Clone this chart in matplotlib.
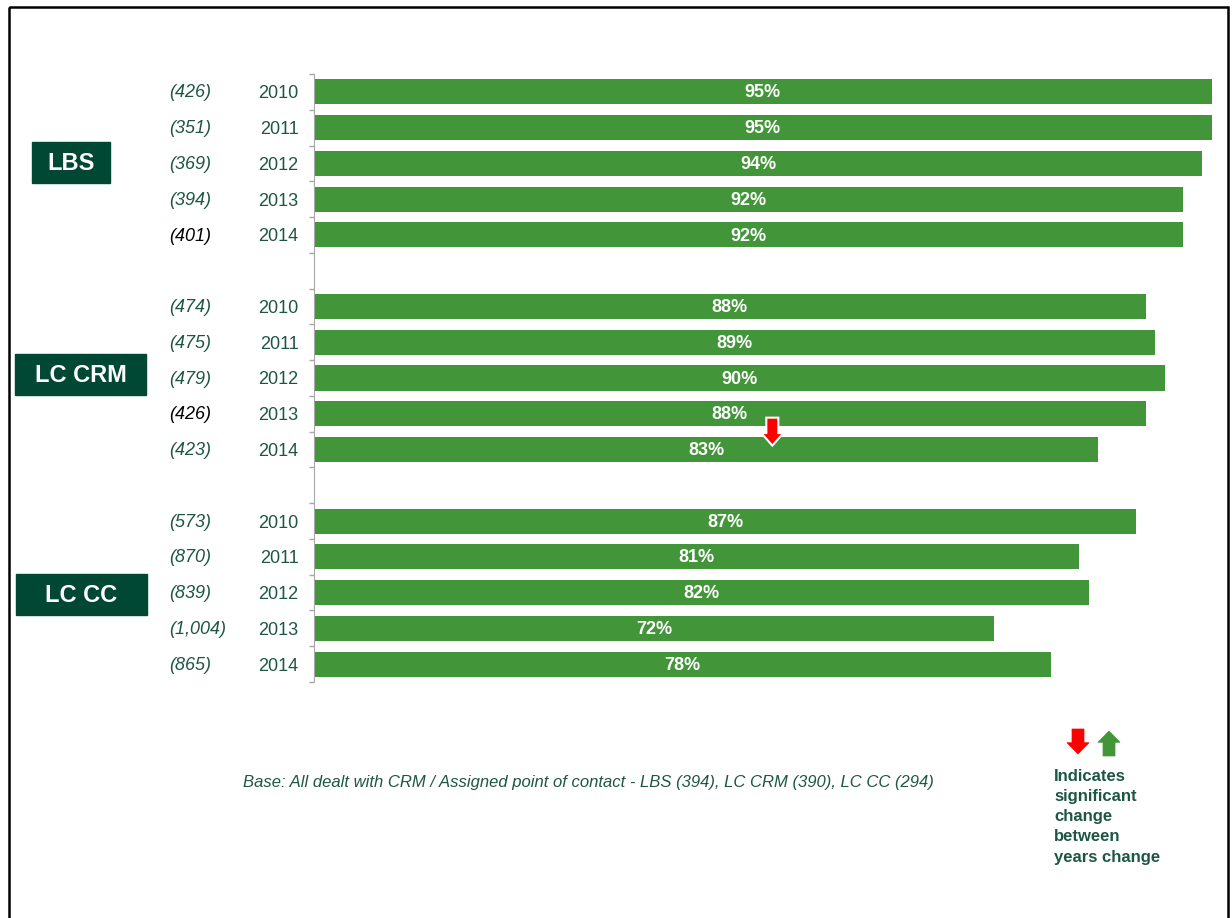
import numpy as np
import matplotlib
matplotlib.use('Agg')
import matplotlib.pyplot as plt
import matplotlib.transforms as mtransforms
from matplotlib.patches import Rectangle, Polygon

plt.rcParams['font.family'] = ['Liberation Sans', 'DejaVu Sans']

# data
groups = ['LBS', 'LC CRM', 'LC CC']
years = ['2010', '2011', '2012', '2013', '2014']
lbs = [95, 95, 94, 92, 92]
lc_crm = [88, 89, 90, 88, 83]
lc_cc = [87, 81, 82, 72, 78]
lbs_n = ['(426)', '(351)', '(369)', '(394)', '(401)']
lc_crm_n = ['(474)', '(475)', '(479)', '(426)', '(423)']
lc_cc_n = ['(573)', '(870)', '(839)', '(1,004)', '(865)']
# base sizes printed in black rather than green
black_n = [('LBS', '2014'), ('LC CRM', '2013')]
# significant drop vs previous year
sig_down = [('LC CRM', '2014')]
base_note = ('Base: All dealt with CRM / Assigned point of contact - '
             'LBS (394), LC CRM (390), LC CC (294)')
legend_note = 'Indicates\nsignificant\nchange\nbetween\nyears change'

GREEN = '#43953A'
DARK = '#1E5646'
BOX = '#004833'
W, H = 1232, 918

values = [lbs, lc_crm, lc_cc]
bases = [lbs_n, lc_crm_n, lc_cc_n]

rows, vals, ns, labs, keys = [], [], [], [], []
for gi, g in enumerate(groups):
    for yi, yr in enumerate(years):
        rows.append(gi * 6 + yi)
        vals.append(values[gi][yi])
        ns.append(bases[gi][yi])
        labs.append(yr)
        keys.append((g, yr))

fig = plt.figure(figsize=(W / 100, H / 100), dpi=100)

ax = fig.add_axes([314 / W, 1 - 682 / H, 945 / W, 608 / H])
ax.barh(rows, vals, height=0.7, color=GREEN)
ax.set_xlim(0, 100)
ax.set_ylim(16.5, -0.5)
ax.set_xticks([])
ax.set_yticks(np.arange(-0.5, 17, 1))
ax.set_yticklabels([])
ax.set_yticks(rows, minor=True)
ax.set_yticklabels(labs, minor=True)
ax.tick_params(axis='y', which='major', length=3.5, width=1, color='#A6A6A6')
ax.tick_params(axis='y', which='minor', length=0, pad=11, labelsize=13,
               labelcolor=DARK)
for s in ['top', 'right', 'bottom']:
    ax.spines[s].set_visible(False)
ax.spines['left'].set_color('#A6A6A6')

for r, v in zip(rows, vals):
    ax.text(v / 2, r + 0.03, f'{v}%', ha='center', va='center', color='white',
            fontweight='bold', fontsize=13)

trans = mtransforms.blended_transform_factory(fig.transFigure, ax.transData)
for r, n, k in zip(rows, ns, keys):
    ax.text(169 / W, r + 0.03, n, transform=trans, ha='left', va='center',
            style='italic', fontsize=13,
            color='black' if k in black_n else DARK)

# overlay in pixel coords for frame, boxes and legend (drawn on top)
ov = fig.add_axes([0, 0, 1, 1])
ov.set_xlim(0, W)
ov.set_ylim(H, 0)
ov.axis('off')
ov.set_zorder(5)

# group boxes
boxes = [(32, 142, 110, 183), (15, 354, 146, 395), (16, 574, 147, 615)]
for g, (x0, y0, x1, y1) in zip(groups, boxes):
    ov.add_patch(Rectangle((x0, y0), x1 - x0, y1 - y0, color=BOX))
    ov.text((x0 + x1) / 2, (y0 + y1) / 2 + 1, g, ha='center', va='center',
            color='white', fontweight='bold', fontsize=17)

# frame
ov.add_patch(Rectangle((9, 7), 1219, 960, fill=False, lw=1.8, ec='black'))


def arrow(cx, top, bottom, up, color, edge=None):
    hw, sw = 11, 6
    hl = (bottom - top) * 0.45
    if up:
        pts = [(cx, top), (cx + hw, top + hl), (cx + sw, top + hl),
               (cx + sw, bottom), (cx - sw, bottom), (cx - sw, top + hl),
               (cx - hw, top + hl)]
    else:
        pts = [(cx, bottom), (cx + hw, bottom - hl), (cx + sw, bottom - hl),
               (cx + sw, top), (cx - sw, top), (cx - sw, bottom - hl),
               (cx - hw, bottom - hl)]
    ov.add_patch(Polygon(pts, closed=True, fc=color,
                         ec=edge if edge else color,
                         lw=1.5 if edge else 0.5, zorder=5))


# significance arrows on bars
for r, v, k in zip(rows, vals, keys):
    if k in sig_down:
        px, py = ax.transData.transform((v / 2 + 7, r - 0.5))
        py = H - py
        arrow(px, py - 14, py + 14, False, '#FF0000', 'white')

# legend
arrow(1078, 729, 754, False, '#FF0000')
arrow(1109, 731, 756, True, GREEN)
ov.text(1054, 769, legend_note, ha='left', va='top', color=DARK,
        fontweight='bold', fontsize=12, linespacing=1.43)

ov.text(588, 783, base_note, ha='center', va='center', color=DARK,
        style='italic', fontsize=12)

fig.savefig('out.png', dpi=100, facecolor='white')
